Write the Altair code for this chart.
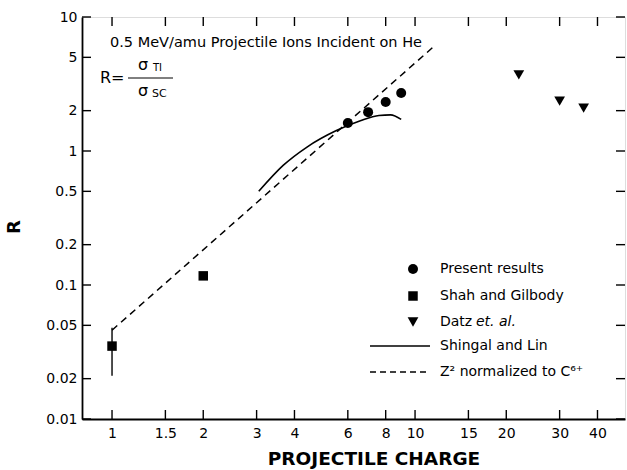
import altair as alt
import pandas as pd

# ---- data ----
present_x = [6, 7, 8, 9]
present_y = [1.62, 1.95, 2.32, 2.71]

shah_x = [1, 2]
shah_y = [0.035, 0.117]
shah_err_lo = [0.021]
shah_err_hi = [0.048]
shah_err_x = [1]

datz_x = [22, 30, 36]
datz_y = [3.7, 2.36, 2.09]

shingal_x = [3.05, 3.67, 4.4, 5.5, 6.6, 7.6, 8.3, 9.0]
shingal_y = [0.50, 0.78, 1.07, 1.42, 1.68, 1.84, 1.86, 1.72]

z2_x = [1.0, 11.7]
z2_y = [0.046, 6.2]

x_ticks = [1, 1.5, 2, 3, 4, 6, 8, 10, 15, 20, 30, 40]
y_ticks = [0.01, 0.02, 0.05, 0.1, 0.2, 0.5, 1, 2, 5, 10]

W, H = 543, 402
FONT = "DejaVu Sans"

xscale = alt.Scale(type="log", domain=[0.796, 49.3], nice=False)
yscale = alt.Scale(type="log", domain=[0.01, 10], nice=False)

xaxis = alt.Axis(values=x_ticks, format="~g", tickSize=0, grid=False, title=None,
                 labelFont=FONT, labelFontSize=14, labelColor="black", labelPadding=7,
                 domainColor="black", domainWidth=1.8, labelFlush=False, labelOverlap=False)
yaxis = alt.Axis(values=y_ticks, format="~g", tickSize=0, grid=False, title=None,
                 labelFont=FONT, labelFontSize=14, labelColor="black", labelPadding=5,
                 domainColor="black", domainWidth=1.8, labelFlush=False, labelOverlap=False)

def X(field="x"):
    return alt.X(f"{field}:Q", scale=xscale, axis=xaxis)

def Y(field="y"):
    return alt.Y(f"{field}:Q", scale=yscale, axis=yaxis)

z2_df = pd.DataFrame({"x": z2_x, "y": z2_y})
sh_df = pd.DataFrame({"x": shingal_x, "y": shingal_y})
pr_df = pd.DataFrame({"x": present_x, "y": present_y})
sg_df = pd.DataFrame({"x": shah_x, "y": shah_y})
err_df = pd.DataFrame({"x": shah_err_x, "y": shah_err_lo, "y2": shah_err_hi})
dz_df = pd.DataFrame({"x": datz_x, "y": datz_y})
xt_df = pd.DataFrame({"x": x_ticks})
yt_df = pd.DataFrame({"y": y_ticks})

z2_line = alt.Chart(z2_df).mark_line(color="black", strokeWidth=1.5, strokeDash=[7, 5]).encode(x=X(), y=Y())
sh_line = alt.Chart(sh_df).mark_line(color="black", strokeWidth=1.6, interpolate="monotone").encode(x=X(), y=Y())
err = alt.Chart(err_df).mark_rule(color="black", strokeWidth=1.4).encode(x=X(), y=Y(), y2="y2:Q")
pr_pts = alt.Chart(pr_df).mark_point(shape="circle", filled=True, color="black", opacity=1, size=100).encode(x=X(), y=Y())
sg_pts = alt.Chart(sg_df).mark_point(shape="square", filled=True, color="black", opacity=1, size=90).encode(x=X(), y=Y())
dz_pts = alt.Chart(dz_df).mark_point(shape="triangle-down", filled=True, color="black", opacity=1, size=115).encode(x=X(), y=Y())

TL = 9
tick_b = alt.Chart(xt_df).mark_rule(color="black", strokeWidth=1.4).encode(x=X(), y=alt.value(H), y2=alt.value(H - TL))
tick_t = alt.Chart(xt_df).mark_rule(color="black", strokeWidth=1.4).encode(x=X(), y=alt.value(0), y2=alt.value(TL))
tick_l = alt.Chart(yt_df).mark_rule(color="black", strokeWidth=1.4).encode(y=Y(), x=alt.value(0), x2=alt.value(TL))
tick_r = alt.Chart(yt_df).mark_rule(color="black", strokeWidth=1.4).encode(y=Y(), x=alt.value(W), x2=alt.value(W - TL))

def txt(s, x, y, size=14, weight="normal", style="normal", align="left", angle=0):
    return alt.Chart(pd.DataFrame({"t": [s]})).mark_text(
        font=FONT, fontSize=size, fontWeight=weight, fontStyle=style, align=align,
        baseline="middle", color="black", angle=angle
    ).encode(x=alt.value(x), y=alt.value(y), text="t:N")

texts = [
    txt("0.5 MeV/amu Projectile Ions Incident on He", 28, 26, size=14.5),
    txt("R=", 18, 61, size=16),
    txt("σ", 56, 48, size=16),
    txt("TI", 71, 51, size=10),
    txt("σ", 56, 74, size=16),
    txt("SC", 70, 77, size=11),
    txt("PROJECTILE CHARGE", 292, 442, size=18.5, weight="bold", align="center"),
    txt("R", -67, 210, size=18, weight="bold", align="center", angle=270),
]
frac = alt.Chart(pd.DataFrame({"a": [0]})).mark_rule(color="black", strokeWidth=1).encode(
    x=alt.value(46), x2=alt.value(91), y=alt.value(61))

# legend (manual)
LX, TX = 331, 358
rows = [252, 279, 305, 329, 355]
def lpt(shape, y, size):
    return alt.Chart(pd.DataFrame({"a": [0]})).mark_point(
        shape=shape, filled=True, color="black", opacity=1, size=size
    ).encode(x=alt.value(LX), y=alt.value(y))
legend = [
    lpt("circle", rows[0], 100), txt("Present results", TX, rows[0]),
    lpt("square", rows[1], 90), txt("Shah and Gilbody", TX, rows[1]),
    lpt("triangle-down", rows[2], 115), txt("Datz", TX, rows[2]), txt("et. al.", TX + 36, rows[2], style="italic"),
    alt.Chart(pd.DataFrame({"a": [0]})).mark_rule(color="black", strokeWidth=1.4).encode(
        x=alt.value(288), x2=alt.value(348), y=alt.value(rows[3])),
    txt("Shingal and Lin", TX, rows[3]),
    alt.Chart(pd.DataFrame({"a": [0]})).mark_rule(color="black", strokeWidth=1.4, strokeDash=[6, 4]).encode(
        x=alt.value(288), x2=alt.value(348), y=alt.value(rows[4])),
    txt("Z² normalized to C⁶⁺", TX, rows[4]),
]

chart = alt.layer(
    z2_line, sh_line, err, pr_pts, sg_pts, dz_pts,
    tick_b, tick_t, tick_l, tick_r, frac, *texts, *legend
).properties(
    width=W, height=H,
    autosize=alt.AutoSizeParams(type="none"),
    padding={"left": 82, "top": 17, "right": 2, "bottom": 51},
).configure_view(
    stroke="black", strokeWidth=1.8
).configure(background="white")

chart.save("out.html", embed_options={"renderer": "svg", "actions": False})
